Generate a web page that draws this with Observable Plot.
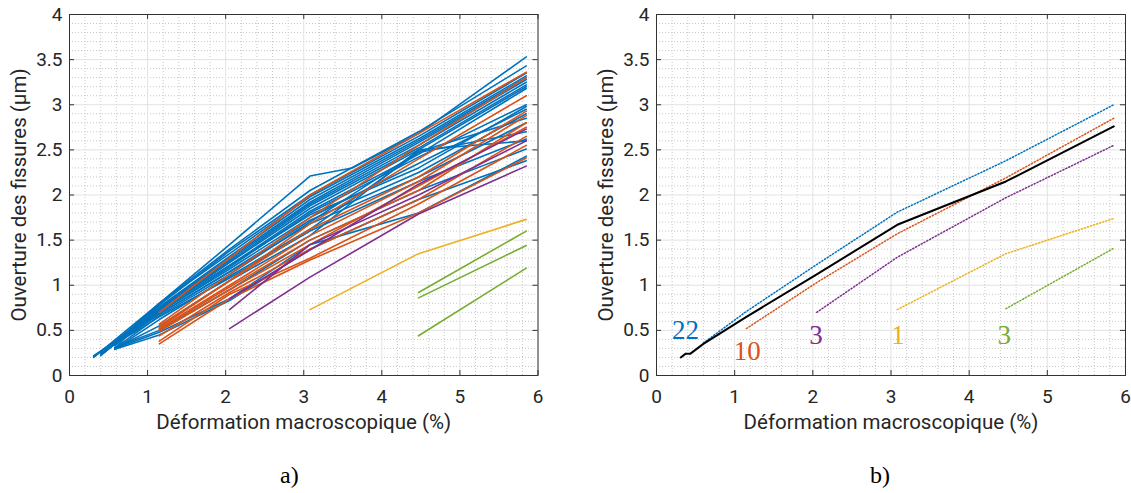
<!DOCTYPE html>
<html><head><meta charset="utf-8">
<script src="https://cdn.jsdelivr.net/npm/d3@7"></script>
<script src="https://cdn.jsdelivr.net/npm/@observablehq/plot@0.6"></script>
<style>
body{margin:0;background:#fff;width:1131px;height:493px;position:relative;overflow:hidden;font-family:Roboto,sans-serif}
#a,#b{position:absolute;top:0}
#a{left:0;width:560px}#b{left:580px;width:551px}
.cap{position:absolute;top:462px;font-family:"Liberation Serif",serif;font-size:24px;color:#000}
</style></head><body>
<div id="a"></div><div id="b"></div>
<div class="cap" style="left:280px">a)</div>
<div class="cap" style="left:870px">b)</div>
<script>
// measurement steps (macroscopic strain, %)
const stepX = [1.15, 2.05, 3.08, 4.47, 5.85];
// blue cracks (22): first strain value, then openings at x0 and stepX
const blueX0 = [0.45,0.31,0.40,0.58,0.45,0.31,0.58,0.40,0.45,0.58,0.31,0.45,0.58,0.40,0.58,0.45,0.58,0.40,0.58,0.58,0.58,0.58];
const blueY = [
 [0.26,0.80,1.45,2.21,2.68,3.53],
 [0.20,0.80,1.40,2.05,2.70,3.43],
 [0.22,0.78,1.38,2.00,2.65,3.35],
 [0.30,0.80,1.35,1.98,2.62,3.32],
 [0.26,0.76,1.32,1.95,2.60,3.30],
 [0.21,0.75,1.30,1.92,2.58,3.28],
 [0.33,0.74,1.28,1.90,2.55,3.25],
 [0.23,0.73,1.26,1.88,2.52,3.22],
 [0.27,0.72,1.25,1.85,2.50,3.20],
 [0.34,0.72,1.22,1.82,2.45,3.18],
 [0.22,0.70,1.20,1.80,2.42,3.00],
 [0.27,0.72,1.22,1.78,2.30,2.98],
 [0.36,0.70,1.18,1.75,2.35,2.95],
 [0.24,0.68,1.15,1.72,2.25,2.90],
 [0.30,0.66,1.12,1.70,2.48,2.85],
 [0.28,0.68,1.15,1.68,2.20,2.80],
 [0.29,0.62,1.10,1.62,2.47,2.70],
 [0.25,0.65,1.08,1.60,2.15,2.62],
 [0.30,0.55,1.05,1.55,2.50,2.60],
 [0.31,0.50,0.95,1.50,2.05,2.51],
 [0.30,0.48,0.85,1.45,1.80,2.43],
 [0.29,0.45,0.83,1.40,1.95,2.38]
];
// extra vertex of the first blue crack
const blueKinkX = [3.62];
const blueKinkY = [2.30];
// orange cracks (10), openings at stepX
const orangeY = [
 [0.70,1.30,2.00,2.68,3.36],
 [0.57,1.12,1.75,2.55,3.30],
 [0.55,1.05,1.68,2.40,3.10],
 [0.53,1.05,1.62,2.20,2.93],
 [0.52,1.00,1.55,2.15,2.88],
 [0.51,0.98,1.50,2.05,2.80],
 [0.49,0.95,1.45,2.10,2.75],
 [0.44,0.92,1.40,1.95,2.65],
 [0.38,0.90,1.30,1.90,2.55],
 [0.35,0.85,1.28,1.80,2.41]
];
// purple cracks (3), openings at stepX from 2.05
const purpleY = [
 [0.73,1.45,2.00,2.60],
 [0.52,1.09,1.79,2.32],
 [0.85,1.39,2.12,2.73]
];
// yellow crack (1), openings at stepX from 3.08
const yellowY = [[0.73,1.35,1.73]];
// green cracks (3), openings at stepX from 4.47
const greenY = [
 [0.92,1.60],
 [0.86,1.44],
 [0.44,1.19]
];
// panel b: mean curves
const meanBlueX = [0.6,1.15,2.05,3.08,4.47,5.85];
const meanBlueY = [0.36,0.71,1.23,1.81,2.38,3.00];
const meanOrangeY = [0.52,1.03,1.57,2.19,2.85];
const meanPurpleY = [0.70,1.31,1.97,2.55];
const meanYellowY = [0.73,1.35,1.74];
const meanGreenY = [0.74,1.41];
const meanAllX = [0.31,0.37,0.43,0.6,1.15,2.05,3.08,4.47,5.85];
const meanAllY = [0.20,0.24,0.24,0.35,0.65,1.12,1.67,2.15,2.76];
// counts labels
const countText = ["22","10","3","1","3"];
const countX = [0.37,1.16,2.04,3.09,4.45];
const countY = [0.50,0.27,0.44,0.44,0.44];

const colors = {blue:"#0072BD", orange:"#D95319", purple:"#7E2F8E", yellow:"#EDB120", green:"#77AC30"};

function rows(xs, ysList, group) {
  const out = [];
  ysList.forEach((ys, i) => {
    const off = xs.length - ys.length;
    ys.forEach((y, j) => out.push({x: xs[j + off], y, id: group + i}));
  });
  return out;
}
// build blue rows
const blueRows = [];
blueY.forEach((ys, i) => {
  const xs = [blueX0[i], ...stepX];
  const pts = ys.map((y, j) => ({x: xs[j], y, id: "b" + i}));
  if (i === 0) {
    blueKinkX.forEach((kx, k) => pts.push({x: kx, y: blueKinkY[k], id: "b0"}));
    pts.sort((a, b) => a.x - b.x);
  }
  blueRows.push(...pts);
});
const orangeRows = rows(stepX, orangeY, "o");
const purpleRows = rows(stepX, purpleY, "p");
const yellowRows = rows(stepX, yellowY, "y");
const greenRows = rows(stepX, greenY, "g");

function frameMarks() {
  const xMaj = d3.range(0, 7, 1), yMaj = d3.range(0, 4.01, 0.5);
  const xMin = d3.range(0, 6.01, 0.2).filter(v => Math.abs(v - Math.round(v)) > 1e-6);
  const yMin = d3.range(0, 4.001, 0.1).filter(v => Math.abs(v*2 - Math.round(v*2)) > 1e-6);
  return {
    under: [
      Plot.ruleX(xMin, {stroke: "#c8c8c8", strokeWidth: 1, strokeDasharray: "1,2"}),
      Plot.ruleY(yMin, {stroke: "#c8c8c8", strokeWidth: 1, strokeDasharray: "1,2"}),
      Plot.ruleX(xMaj, {stroke: "#e2e2e2", strokeWidth: 1}),
      Plot.ruleY(yMaj, {stroke: "#e2e2e2", strokeWidth: 1})
    ],
    over: [
      Plot.ruleX(xMaj, {y1: 0, y2: 0.055, stroke: "#333"}),
      Plot.ruleX(xMaj, {y1: 4, y2: 3.945, stroke: "#333"}),
      Plot.ruleY(yMaj, {x1: 0, x2: 0.065, stroke: "#333"}),
      Plot.ruleY(yMaj, {x1: 6, x2: 5.935, stroke: "#333"}),
      Plot.frame({stroke: "#333", strokeWidth: 1}),
      Plot.axisX(xMaj, {tickSize: 0, tickPadding: 14, fontSize: 19, label: null, tickFormat: d => d}),
      Plot.axisY(yMaj, {tickSize: 0, tickPadding: 7, fontSize: 19, label: null, tickFormat: d => d}),
      Plot.text(["Déformation macroscopique (%)"], {frameAnchor: "bottom", dy: 47, lineAnchor: "middle", textAnchor: "middle", fontSize: 20.5, fill: "#262626"}),
      Plot.text(["Ouverture des fissures (µm)"], {frameAnchor: "left", dx: -50, rotate: -90, textAnchor: "middle", lineAnchor: "middle", fontSize: 20.5, fill: "#262626"})
    ]
  };
}

function panel(marks, width, marginLeft, marginRight) {
  const f = frameMarks();
  return Plot.plot({
    width, height: 440, marginLeft, marginRight, marginTop: 14, marginBottom: 65,
    x: {domain: [0, 6]}, y: {domain: [0, 4]},
    style: {fontFamily: "Roboto, sans-serif", color: "#262626", background: "transparent", overflow: "visible"},
    marks: [...f.under, ...marks, ...f.over]
  });
}

const lw = 1.6;
const a = panel([
  Plot.line(blueRows, {x: "x", y: "y", z: "id", stroke: colors.blue, strokeWidth: lw}),
  Plot.line(orangeRows, {x: "x", y: "y", z: "id", stroke: colors.orange, strokeWidth: lw}),
  Plot.line(purpleRows, {x: "x", y: "y", z: "id", stroke: colors.purple, strokeWidth: lw}),
  Plot.line(yellowRows, {x: "x", y: "y", z: "id", stroke: colors.yellow, strokeWidth: lw}),
  Plot.line(greenRows, {x: "x", y: "y", z: "id", stroke: colors.green, strokeWidth: lw})
], 560, 69, 22.5);
document.getElementById("a").append(a);

const dot = {strokeWidth: 1.5, strokeDasharray: "1.2,2"};
const countColors = [colors.blue, colors.orange, colors.purple, colors.yellow, colors.green];
const b = panel([
  Plot.line(meanBlueX.map((x, i) => ({x, y: meanBlueY[i]})), {x: "x", y: "y", stroke: colors.blue, ...dot}),
  Plot.line(stepX.map((x, i) => ({x, y: meanOrangeY[i]})), {x: "x", y: "y", stroke: colors.orange, ...dot}),
  Plot.line(stepX.slice(1).map((x, i) => ({x, y: meanPurpleY[i]})), {x: "x", y: "y", stroke: colors.purple, ...dot}),
  Plot.line(stepX.slice(2).map((x, i) => ({x, y: meanYellowY[i]})), {x: "x", y: "y", stroke: colors.yellow, ...dot}),
  Plot.line(stepX.slice(3).map((x, i) => ({x, y: meanGreenY[i]})), {x: "x", y: "y", stroke: colors.green, ...dot}),
  Plot.line(meanAllX.map((x, i) => ({x, y: meanAllY[i]})), {x: "x", y: "y", stroke: "#000", strokeWidth: 2}),
  Plot.text(countText.map((t, i) => ({t, x: countX[i], y: countY[i], c: countColors[i]})),
    {x: "x", y: "y", text: "t", fill: "c", fontSize: 27, fontFamily: "Liberation Serif, serif"})
], 551, 76, 6);
document.getElementById("b").append(b);
</script>
</body></html>
